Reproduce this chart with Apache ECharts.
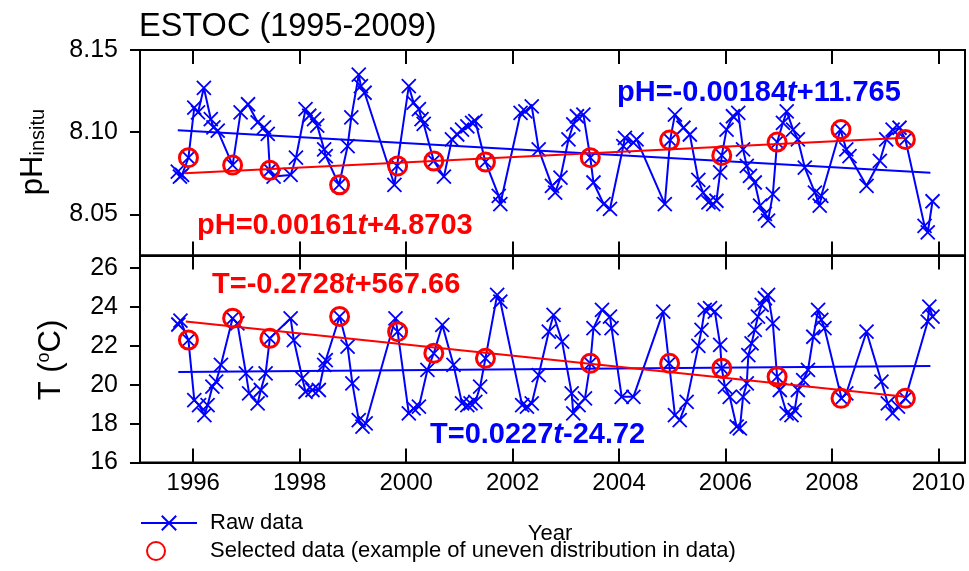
<!DOCTYPE html>
<html>
<head>
<meta charset="utf-8">
<script src="https://cdn.jsdelivr.net/npm/echarts@6/dist/echarts.min.js"></script>
<style>html,body{margin:0;padding:0;background:#fff;}#c{width:969px;height:571px;}</style>
</head>
<body>
<div id="c"></div>
<script>
// ---------- data ----------
const yearTicks = [1996, 1998, 2000, 2002, 2004, 2006, 2008, 2010];
const pHTicks = [8.05, 8.10, 8.15];
const TTicks = [16, 18, 20, 22, 24, 26];

const pHRawYears = [1995.71,1995.75,1995.79,1995.91,1996.02,1996.09,1996.20,1996.33,1996.38,1996.46,1996.74,1996.89,1997.03,1997.21,1997.33,1997.40,1997.44,1997.51,1997.83,1997.93,1998.11,1998.18,1998.27,1998.33,1998.46,1998.49,1998.74,1998.90,1998.97,1999.11,1999.15,1999.22,1999.78,1999.83,2000.05,2000.14,2000.24,2000.29,2000.33,2000.52,2000.71,2000.86,2000.96,2001.05,2001.15,2001.24,2001.30,2001.49,2001.74,2001.77,2002.15,2002.24,2002.36,2002.49,2002.74,2002.80,2002.90,2003.05,2003.14,2003.21,2003.33,2003.46,2003.52,2003.71,2003.83,2004.08,2004.11,2004.27,2004.33,2004.86,2004.96,2005.05,2005.21,2005.33,2005.49,2005.58,2005.68,2005.77,2005.83,2005.90,2005.93,2006.02,2006.14,2006.24,2006.33,2006.40,2006.46,2006.55,2006.65,2006.74,2006.80,2006.89,2006.97,2007.08,2007.15,2007.27,2007.36,2007.49,2007.68,2007.77,2007.80,2008.16,2008.27,2008.33,2008.65,2008.90,2009.02,2009.14,2009.27,2009.38,2009.74,2009.80,2009.89];
const pHRawValues = [8.076,8.073,8.074,8.0845,8.115,8.112,8.127,8.108,8.103,8.101,8.080,8.112,8.117,8.106,8.103,8.099,8.077,8.073,8.074,8.0845,8.114,8.110,8.108,8.104,8.0895,8.0855,8.068,8.0915,8.109,8.135,8.128,8.124,8.068,8.0795,8.128,8.118,8.114,8.108,8.105,8.0825,8.073,8.0956,8.0986,8.1016,8.1036,8.1057,8.1067,8.0819,8.0613,8.0563,8.1117,8.1127,8.1157,8.0895,8.0674,8.0633,8.0724,8.0956,8.1047,8.1097,8.1107,8.0845,8.0694,8.0563,8.0533,8.0915,8.0966,8.0936,8.0956,8.0563,8.0952,8.1107,8.1027,8.0986,8.071,8.0633,8.0573,8.0563,8.0583,8.0755,8.0859,8.1016,8.1097,8.1117,8.0895,8.0795,8.0734,8.0694,8.0553,8.0503,8.0462,8.0623,8.094,8.1057,8.1127,8.1016,8.0956,8.0785,8.0633,8.0553,8.0613,8.1016,8.0895,8.0855,8.0674,8.0825,8.0956,8.1016,8.1027,8.0956,8.043,8.039,8.058];

const TRawYears = [1995.72,1995.76,1995.91,1996.02,1996.11,1996.21,1996.27,1996.36,1996.43,1996.52,1996.74,1996.83,1996.99,1997.05,1997.21,1997.27,1997.36,1997.44,1997.83,1997.89,1998.05,1998.11,1998.24,1998.36,1998.46,1998.49,1998.75,1998.90,1998.99,1999.11,1999.18,1999.24,1999.80,1999.84,2000.05,2000.14,2000.24,2000.40,2000.52,2000.68,2000.89,2001.05,2001.15,2001.21,2001.30,2001.39,2001.49,2001.71,2001.77,2002.18,2002.27,2002.36,2002.49,2002.68,2002.77,2002.93,2003.11,2003.14,2003.24,2003.36,2003.46,2003.52,2003.68,2003.83,2003.86,2004.05,2004.27,2004.83,2004.94,2005.05,2005.14,2005.27,2005.49,2005.55,2005.61,2005.71,2005.80,2005.90,2005.93,2005.99,2006.08,2006.21,2006.27,2006.33,2006.40,2006.43,2006.49,2006.55,2006.61,2006.68,2006.74,2006.80,2006.89,2006.97,2007.02,2007.15,2007.24,2007.30,2007.36,2007.46,2007.55,2007.65,2007.74,2007.80,2007.86,2008.18,2008.27,2008.65,2008.93,2009.05,2009.14,2009.24,2009.38,2009.80,2009.83,2009.89];
const TRawValues = [23.1,23.3,22.30,19.21,18.95,18.44,18.95,19.90,20.16,21.02,23.42,23.16,20.59,19.56,19.04,19.73,20.59,22.39,23.42,22.30,20.33,19.64,19.73,19.73,21.02,21.27,23.51,21.96,20.07,18.18,17.84,18.01,23.42,22.73,18.53,18.78,18.87,20.76,21.62,23.08,21.02,19.04,18.95,19.04,19.12,19.90,21.36,24.62,24.28,18.95,18.87,19.04,20.50,22.73,23.59,22.22,19.56,18.53,18.95,19.30,21.10,22.91,23.85,23.51,22.91,19.38,19.38,23.76,21.10,18.44,18.18,19.12,22.0,22.82,23.85,23.94,23.76,22.05,20.85,19.90,19.38,17.84,17.75,19.38,20.07,21.53,22.13,22.82,23.51,24.11,24.45,24.62,23.16,20.41,19.73,18.53,18.44,18.70,19.73,20.24,20.76,22.47,23.85,23.34,22.91,19.30,19.56,22.73,20.16,19.04,18.53,18.87,19.30,23.25,24.02,23.51];

const selYears = [1995.91,1996.74,1997.44,1998.75,1999.84,2000.52,2001.49,2003.46,2004.95,2005.93,2006.97,2008.17,2009.38];
const selPH = [8.0845,8.080,8.0768,8.068,8.0795,8.0825,8.0819,8.0845,8.0952,8.0859,8.094,8.1016,8.0956];
const selT = [22.30,23.42,22.39,23.51,22.73,21.62,21.36,21.10,21.10,20.85,20.41,19.30,19.30];

const pHRawTrend = [[1995.71, 8.1012], [2009.85, 8.0754]];
const pHSelTrend = [[1995.84, 8.0750], [2009.38, 8.0966]];
const TRawTrend = [[1995.72, 20.65], [2009.85, 20.96]];
const TSelTrend = [[1995.86, 23.25], [2009.38, 19.38]];

const RAW_NAME = 'Raw data';
const SEL_NAME = 'Selected data (example of uneven distribution in data)';

// ---------- chart ----------
const FONT = 'Liberation Sans, Arial, Helvetica, sans-serif';
const BLUE = '#0000ff', RED = '#ff0000';
const zip = (a, b) => a.map((v, i) => [v, b[i]]);
const XMARK = 'path://M0,0L10,10M10,0L0,10';

const chart = echarts.init(document.getElementById('c'), null, {renderer: 'canvas'});

function xAx(grid, pos, labels) {
  return {
    type: 'value', gridIndex: grid, position: pos, min: 1995, max: 2010.5,
    axisLine: {show: true, onZero: false, lineStyle: {color: '#000', width: 2}},
    axisTick: {show: true, inside: true, length: 14, customValues: yearTicks, lineStyle: {color: '#000', width: 2}},
    axisLabel: {show: labels, customValues: yearTicks, color: '#000', fontSize: 24, fontFamily: FONT, margin: 9,
                formatter: v => String(v)},
    splitLine: {show: false}
  };
}
function yAx(grid, min, max, ticks, fmt) {
  return {
    type: 'value', gridIndex: grid, min: min, max: max,
    axisLine: {show: true, onZero: false, lineStyle: {color: '#000', width: 2}},
    axisTick: {show: true, inside: false, length: 10, customValues: ticks, lineStyle: {color: '#000', width: 2}},
    axisLabel: {show: true, customValues: ticks, color: '#000', fontSize: 25, fontFamily: FONT, margin: 22, formatter: fmt},
    splitLine: {show: false}
  };
}

const rawStyle = {
  type: 'line', name: RAW_NAME, symbol: XMARK, symbolSize: 14,
  lineStyle: {color: BLUE, width: 2}, itemStyle: {color: BLUE, borderColor: BLUE, borderWidth: 1.8},
  z: 2, animation: false
};
const selStyle = {
  type: 'scatter', name: SEL_NAME, symbol: 'circle', symbolSize: 18,
  itemStyle: {color: 'rgba(0,0,0,0)', borderColor: RED, borderWidth: 3, opacity: 1},
  z: 4, animation: false
};
function trend(xi, yi, data, color) {
  return {type: 'line', name: 'trend', xAxisIndex: xi, yAxisIndex: yi, data: data, symbol: 'none',
          lineStyle: {color: color, width: 2}, z: 3, animation: false, silent: true};
}
function eq(x, y, a, t, b, color) {
  const base = {fontSize: 29, fontWeight: 'bold', fontFamily: FONT, fill: color};
  return {type: 'text', x: x, y: y, z: 10, style: {
    text: '{n|' + a + '}{i|' + t + '}{n|' + b + '}', verticalAlign: 'middle', align: 'left',
    rich: {n: base, i: Object.assign({}, base, {fontStyle: 'italic'})}
  }};
}

const option = {
  animation: false,
  backgroundColor: '#fff',
  grid: [
    {left: 140, top: 50, width: 825, height: 205.5, show: true, borderColor: '#000', borderWidth: 2, outerBoundsMode: 'none'},
    {left: 140, top: 255.5, width: 825, height: 207, show: true, borderColor: '#000', borderWidth: 2, outerBoundsMode: 'none'}
  ],
  xAxis: [xAx(0, 'bottom', false), xAx(0, 'top', false), xAx(1, 'bottom', true), xAx(1, 'top', false)],
  yAxis: [yAx(0, 8.025, 8.15, pHTicks, v => v.toFixed(2)), yAx(1, 16, 26.65, TTicks, v => String(v))],
  legend: [
    {data: [RAW_NAME], left: 140, top: 512, padding: 0, orient: 'vertical', itemWidth: 56, itemHeight: 18, selectedMode: false,
     textStyle: {fontSize: 22, fontFamily: FONT, color: '#000', padding: [0, 0, 0, 8]}},
    {data: [SEL_NAME], left: 146, top: 540, padding: 0, orient: 'vertical', itemWidth: 30, itemHeight: 18, selectedMode: false,
     textStyle: {fontSize: 22, fontFamily: FONT, color: '#000', padding: [0, 0, 0, 34]}}
  ],
  series: [
    Object.assign({}, rawStyle, {xAxisIndex: 0, yAxisIndex: 0, data: zip(pHRawYears, pHRawValues)}),
    Object.assign({}, rawStyle, {xAxisIndex: 2, yAxisIndex: 1, data: zip(TRawYears, TRawValues)}),
    trend(0, 0, pHRawTrend, BLUE),
    trend(0, 0, pHSelTrend, RED),
    trend(2, 1, TRawTrend, BLUE),
    trend(2, 1, TSelTrend, RED),
    Object.assign({}, selStyle, {xAxisIndex: 0, yAxisIndex: 0, data: zip(selYears, selPH)}),
    Object.assign({}, selStyle, {xAxisIndex: 2, yAxisIndex: 1, data: zip(selYears, selT)})
  ],
  graphic: [
    {type: 'text', x: 139, y: 27, style: {text: 'ESTOC (1995-2009)', fontSize: 32.5, fontFamily: FONT, fill: '#000', verticalAlign: 'middle', align: 'left'}},
    {type: 'text', x: 33, y: 152, rotation: Math.PI / 2, style: {
      text: '{a|pH}{b|insitu}', align: 'center', verticalAlign: 'middle',
      rich: {a: {fontSize: 31, fontFamily: FONT, fill: '#000'}, b: {fontSize: 20, fontFamily: FONT, fill: '#000', verticalAlign: 'bottom'}}}},
    {type: 'text', x: 51, y: 360, rotation: Math.PI / 2, style: {
      text: '{a|T (}{s|o}{a|C)}', align: 'center', verticalAlign: 'middle',
      rich: {a: {fontSize: 31, fontFamily: FONT, fill: '#000'}, s: {fontSize: 18, fontFamily: FONT, fill: '#000', verticalAlign: 'top'}}}},
    {type: 'text', x: 550, y: 534, style: {text: 'Year', fontSize: 22, fontFamily: FONT, fill: '#000', align: 'center', verticalAlign: 'middle'}},
    eq(617, 93, 'pH=-0.00184', 't', '+11.765', BLUE),
    eq(197, 226, 'pH=0.00161', 't', '+4.8703', RED),
    eq(212, 285, 'T=-0.2728', 't', '+567.66', RED),
    eq(430, 435, 'T=0.0227', 't', '-24.72', BLUE)
  ]
};
chart.setOption(option);
</script>
</body>
</html>
